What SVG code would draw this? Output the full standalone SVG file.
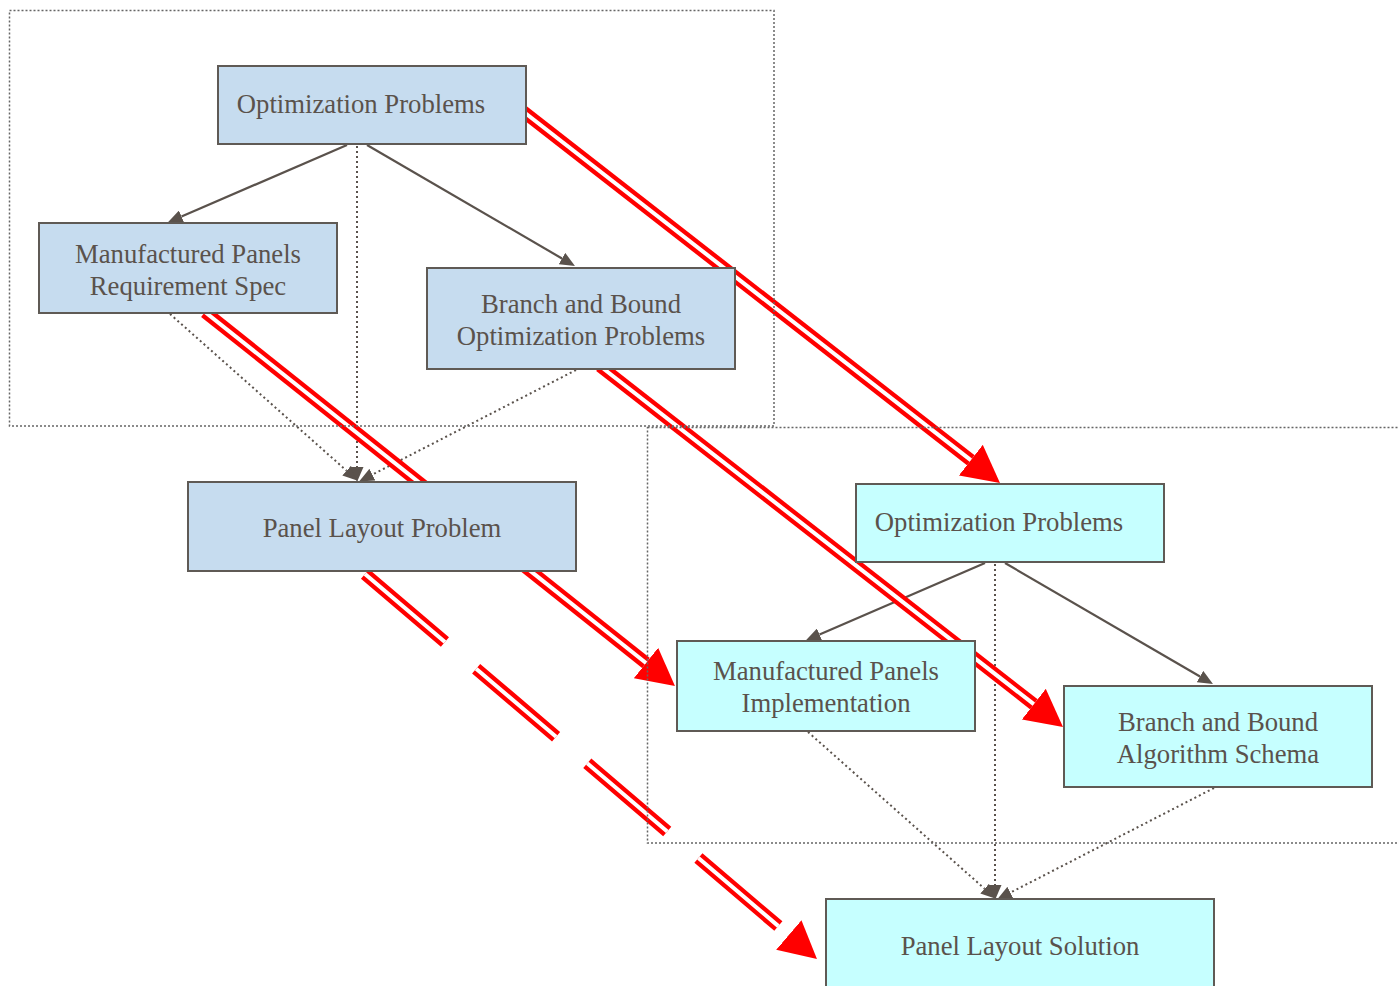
<svg xmlns="http://www.w3.org/2000/svg" width="1399" height="986" viewBox="0 0 1399 986">
  <defs>
    <marker id="head" markerUnits="userSpaceOnUse" markerWidth="15" markerHeight="13" viewBox="0 0 15 13" refX="0" refY="6.5" orient="auto">
      <path d="M0,0 L15,6.5 L0,13 z" fill="#5a524c"/>
    </marker>
    <marker id="bighead" markerUnits="userSpaceOnUse" markerWidth="37" markerHeight="39" viewBox="0 0 37 39" refX="0" refY="19.5" orient="auto">
      <path d="M0,0 L37,19.5 L0,39 z" fill="#ff0000"/>
    </marker>
    <style>
      .node rect { stroke: #5f5a55; stroke-width: 2; }
      .src rect { fill: #c6dcef; }
      .dst rect { fill: #c6ffff; }
      .node text { font-family: "Liberation Serif", "Times New Roman", serif; font-size: 26.7px; fill: #5a524c; text-anchor: middle; }
      .cluster { fill: none; stroke: #666666; stroke-width: 1.5; stroke-dasharray: 2 2; }
      .solid { fill: none; stroke: #5a524c; stroke-width: 2.2; marker-end: url(#head); }
      .dotted { fill: none; stroke: #5a524c; stroke-width: 2; stroke-dasharray: 2 3; marker-end: url(#head); }
      .red { fill: none; stroke: #ff0000; stroke-width: 12.5; marker-end: url(#bighead); }
      .gap { fill: none; stroke: #ffffff; stroke-width: 4; }
      .dash { stroke-dasharray: 105 41; }
    </style>
  </defs>

  <rect width="1399" height="986" fill="#ffffff"/>

  <g id="connectors">
    <!-- tree edges inside each group -->
    <path class="solid" d="M347,145 L181.5,216.5"/>
    <path class="solid" d="M367,145 L562,258.5"/>
    <path class="solid" d="M985,563 L819.5,634.5"/>
    <path class="solid" d="M1005,563 L1200,676.5"/>

    <!-- dotted edges converging on the bottom node of each group -->
    <path class="dotted" d="M170,314 L346.6,470.7"/>
    <path class="dotted" d="M357,146 L357,467"/>
    <path class="dotted" d="M576,370 L372.4,474.6"/>
    <path class="dotted" d="M808,732 L984.6,888.7"/>
    <path class="dotted" d="M995,564 L995,885"/>
    <path class="dotted" d="M1214,788 L1010.4,892.6"/>

    <!-- double red mapping edges -->
    <path class="red" d="M520,109 L970.8,460.2"/>
    <path class="gap" d="M520,109 L970.8,460.2"/>
    <path class="red" d="M205,312 L646,663"/>
    <path class="gap" d="M205,312 L646,663"/>
    <path class="red" d="M600,366 L1033.8,704.2"/>
    <path class="gap" d="M600,366 L1033.8,704.2"/>
    <path class="red dash" d="M365,574 L788.8,935"/>
    <path class="gap dash" d="M365,574 L788.8,935"/>
  </g>

  <g id="clusters">
    <rect id="cluster-problem" class="cluster" x="9.5" y="10.5" width="764.5" height="415.5"/>
    <rect id="cluster-solution" class="cluster" x="647.5" y="427.5" width="765" height="415.5"/>
  </g>

  <g id="opt-problems" class="node src">
    <rect x="218" y="66" width="308" height="78"/>
    <text x="361" y="113">Optimization Problems</text>
  </g>
  <g id="panels-spec" class="node src">
    <rect x="39" y="223" width="298" height="90"/>
    <text x="188" y="263">Manufactured Panels</text>
    <text x="188" y="295">Requirement Spec</text>
  </g>
  <g id="bb-problems" class="node src">
    <rect x="427" y="268" width="308" height="101"/>
    <text x="581" y="313">Branch and Bound</text>
    <text x="581" y="345">Optimization Problems</text>
  </g>
  <g id="layout-problem" class="node src">
    <rect x="188" y="482" width="388" height="89"/>
    <text x="382" y="537">Panel Layout Problem</text>
  </g>

  <g id="opt-problems-impl" class="node dst">
    <rect x="856" y="484" width="308" height="78"/>
    <text x="999" y="531">Optimization Problems</text>
  </g>
  <g id="panels-impl" class="node dst">
    <rect x="677" y="641" width="298" height="90"/>
    <text x="826" y="680">Manufactured Panels</text>
    <text x="826" y="712">Implementation</text>
  </g>
  <g id="bb-schema" class="node dst">
    <rect x="1064" y="686" width="308" height="101"/>
    <text x="1218" y="731">Branch and Bound</text>
    <text x="1218" y="763">Algorithm Schema</text>
  </g>
  <g id="layout-solution" class="node dst">
    <rect x="826" y="899" width="388" height="100"/>
    <text x="1020" y="955">Panel Layout Solution</text>
  </g>
</svg>
